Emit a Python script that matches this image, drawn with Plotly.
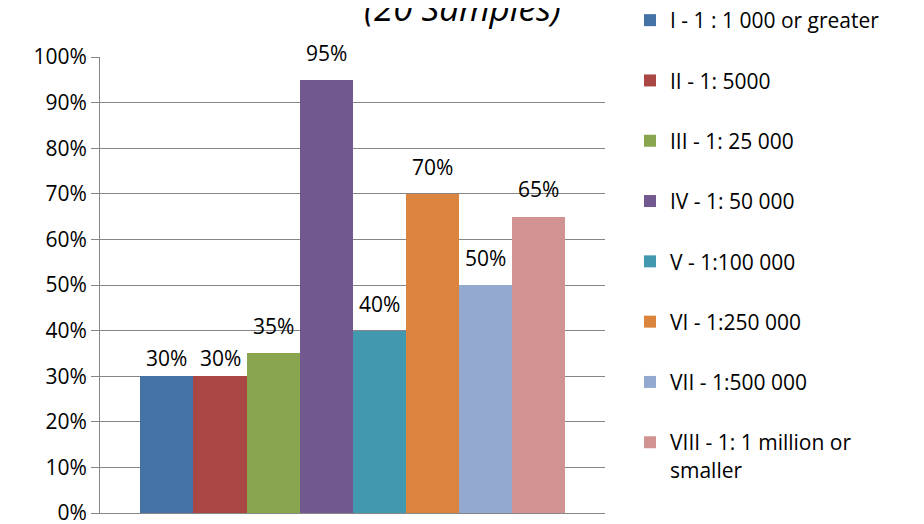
import plotly.graph_objects as go

# Données
categories = ["I", "II", "III", "IV", "V", "VI", "VII", "VIII"]
series_names = [
    "I - 1 : 1 000 or greater",
    "II - 1: 5000",
    "III - 1: 25 000",
    "IV - 1: 50 000",
    "V - 1:100 000",
    "VI - 1:250 000",
    "VII - 1:500 000",
    "VIII - 1: 1 million or<br>smaller",
]
values = [0.30, 0.30, 0.35, 0.95, 0.40, 0.70, 0.50, 0.65]
colors = ["#4572A7", "#AA4643", "#89A54E", "#71588F",
          "#4198AF", "#DB843D", "#93A9CF", "#D19392"]

# décalage vertical des étiquettes (px), comme dans Excel
label_shift = [18, 18, 27, 27, 27, 27, 27, 28]

FONT = "Open Sans"
# la page ajoute une marge de 8 px autour de la figure
W, H = 916, 516
TOP, BOTTOM = 49, 505  # bord haut / bas de la zone de tracé (px)
PAD = 0.764  # espace avant la première barre et après la dernière

fig = go.Figure()

for i, (cat, name, val, col) in enumerate(zip(categories, series_names, values, colors)):
    fig.add_trace(go.Bar(
        x=[cat],
        y=[val],
        name=name,
        legendgroup=f"g{i}",
        marker=dict(color=col, line=dict(width=0)),
        width=1,
    ))
    fig.add_annotation(
        x=cat, y=val, text=f"{val:.0%}",
        xref="x", yref="y",
        yshift=label_shift[i], yanchor="middle",
        showarrow=False,
        font=dict(family=FONT, size=21, color="black"),
    )

# titre coupé en haut de l'image (comme l'original)
fig.add_annotation(
    text="<i>(20 Samples)</i>",
    xref="paper", yref="paper",
    x=(454 - 92) / 505, y=(BOTTOM - 25) / (BOTTOM - TOP),
    xanchor="center", yanchor="bottom",
    showarrow=False,
    font=dict(family=FONT, size=35, color="black"),
)

fig.update_layout(
    width=W, height=H,
    margin=dict(l=92, r=W - 597, t=TOP, b=H - BOTTOM, autoexpand=False),
    paper_bgcolor="white",
    plot_bgcolor="white",
    barmode="overlay",
    bargap=0,
    font=dict(family=FONT, size=21, color="black"),
    showlegend=True,
    legend=dict(
        xref="container", yref="paper",
        x=622 / W, y=(BOTTOM + 8) / (BOTTOM - TOP),
        xanchor="left", yanchor="top",
        traceorder="grouped",
        tracegroupgap=30,
        valign="top",
        maxheight=H,
        font=dict(family=FONT, size=21, color="black"),
        itemwidth=30,
    ),
    xaxis=dict(
        type="category",
        range=[-0.5 - PAD, len(categories) - 0.5 + PAD],
        showline=True, linecolor="#868686", linewidth=1,
        showgrid=False, showticklabels=False, ticks="",
        automargin=False,
    ),
    yaxis=dict(
        range=[0, 1], dtick=0.1, tickformat=".0%",
        showgrid=True, gridcolor="#868686", gridwidth=1,
        showline=True, linecolor="#868686", linewidth=1,
        ticks="outside", ticklen=8, tickcolor="#868686",
        zeroline=False, ticklabeloverflow="allow", automargin=False,
        tickfont=dict(family=FONT, size=21, color="black"),
    ),
)

fig.write_html("out.html")
